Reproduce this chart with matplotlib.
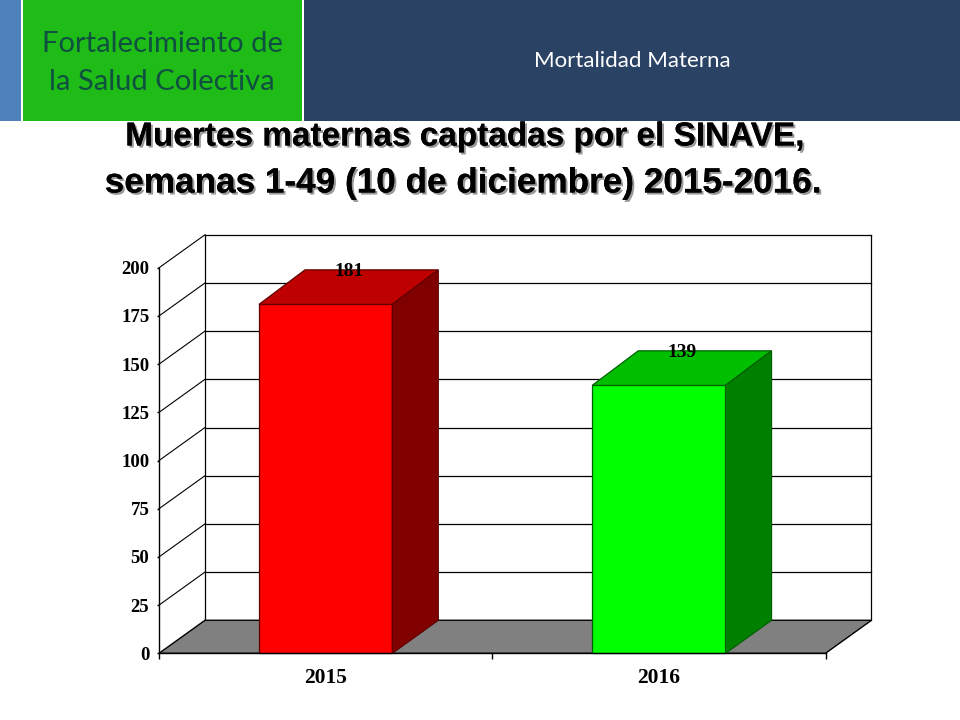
import matplotlib
matplotlib.use('Agg')
import matplotlib.pyplot as plt
import matplotlib.patheffects as pe
from matplotlib.patches import Polygon, Rectangle

years = ['2015', '2016']
deaths = [181, 139]
y_ticks = [0, 25, 50, 75, 100, 125, 150, 175, 200]
title_lines = ['Muertes maternas captadas por el SINAVE,', 'semanas 1-49 (10 de diciembre) 2015-2016.']

bar_w = 0.4
# depth of the fake 3d box, in data units
dx = 46 / 333.25
dy = 33 / 1.925
dy_bar = 34.5 / 1.925

fig = plt.figure(figsize=(9.6, 7.2), dpi=100, facecolor='white')

# header band, pixel coordinates
bg = fig.add_axes([0, 0, 1, 1])
bg.set_xlim(0, 960)
bg.set_ylim(720, 0)
bg.axis('off')
bg.add_patch(Rectangle((0, 0), 21, 121, fc='#4f81bd', ec='none'))
bg.add_patch(Rectangle((23, 0), 279, 121, fc='#1fbb17', ec='none'))
bg.add_patch(Rectangle((304, 0), 656, 121, fc='#2a4365', ec='none'))
bg.text(162, 43.5, 'Fortalecimiento de', ha='center', va='center', fontsize=21, family='Lato', color='#0f5040')
bg.text(162, 81.5, 'la Salud Colectiva', ha='center', va='center', fontsize=21, family='Lato', color='#0f5040')
bg.text(632, 61, 'Mortalidad Materna', ha='center', va='center', fontsize=16, family='Lato', color='white')

shadow = [pe.withSimplePatchShadow(offset=(1.5, -1.5), shadow_rgbFace='#555555', alpha=0.6), pe.Normal()]
bg.text(465.5, 137, title_lines[0], ha='center', va='center', fontsize=24, family='Liberation Sans',
	weight='bold', color='black', path_effects=shadow)
bg.text(463.5, 183, title_lines[1], ha='center', va='center', fontsize=25.3, family='Liberation Sans',
	weight='bold', color='black', path_effects=shadow)

# plot area, front plane of the box
ax = fig.add_axes([159 / 960, 1 - 653.3 / 720, 666.5 / 960, 385.5 / 720])
ax.set_xlim(0, 2)
ax.set_ylim(0, 200)
ax.patch.set_alpha(0)

# floor
ax.add_patch(Polygon([(0, 0), (2, 0), (2 + dx, dy), (dx, dy)], fc='#808080', ec='black', lw=1, clip_on=False, zorder=1))

# walls and grid
for t in y_ticks[1:]:
	ax.plot([0, dx], [t, t + dy], color='black', lw=0.8, clip_on=False, zorder=1)
	ax.plot([dx, 2 + dx], [t + dy, t + dy], color='black', lw=0.9, clip_on=False, zorder=1)
ax.plot([dx, dx], [dy, 200 + dy], color='black', lw=0.9, clip_on=False, zorder=1)
ax.plot([2 + dx, 2 + dx], [dy, 200 + dy], color='black', lw=0.9, clip_on=False, zorder=1)

# bars
styles = [('#ff0000', '#bf0000', '#800000', '#600000'), ('#00ff00', '#00bf00', '#008000', '#006000')]
for i in range(len(years)):
	front, top, side, edge = styles[i]
	c = i + 0.5
	v = deaths[i]
	l = c - bar_w / 2
	r = c + bar_w / 2
	ax.bar(c, v, bar_w, color=front, edgecolor=edge, linewidth=0.9, zorder=3, clip_on=False)
	ax.add_patch(Polygon([(l, v), (r, v), (r + dx, v + dy_bar), (l + dx, v + dy_bar)], fc=top, ec=edge, lw=0.9, clip_on=False, zorder=3))
	ax.add_patch(Polygon([(r, 0), (r + dx, dy), (r + dx, v + dy_bar), (r, v)], fc=side, ec=edge, lw=0.9, clip_on=False, zorder=3))
	ax.text(c + dx / 2, v + dy_bar - 1, str(v), ha='center', va='center', fontsize=14, family='Liberation Serif',
		weight='bold', color='black', zorder=5)

for s in ['top', 'right']:
	ax.spines[s].set_visible(False)
for s in ['left', 'bottom']:
	ax.spines[s].set_linewidth(1)
	ax.spines[s].set_zorder(4)

ax.set_yticks(y_ticks)
ax.set_xticks([0, 1, 2])
ax.set_xticklabels([])
ax.tick_params(axis='y', length=1.5, width=1, pad=5.5)
ax.tick_params(axis='x', length=4.5, width=1)
for label in ax.get_yticklabels():
	label.set_family('Liberation Serif')
	label.set_weight('bold')
	label.set_fontsize(13.5)
for i in range(len(years)):
	ax.annotate(years[i], (i + 0.5, 0), xytext=(0, -17.5), textcoords='offset points', ha='center', va='center',
		fontsize=15.5, family='Liberation Serif', weight='bold')

plt.savefig('out.png', dpi=100)
